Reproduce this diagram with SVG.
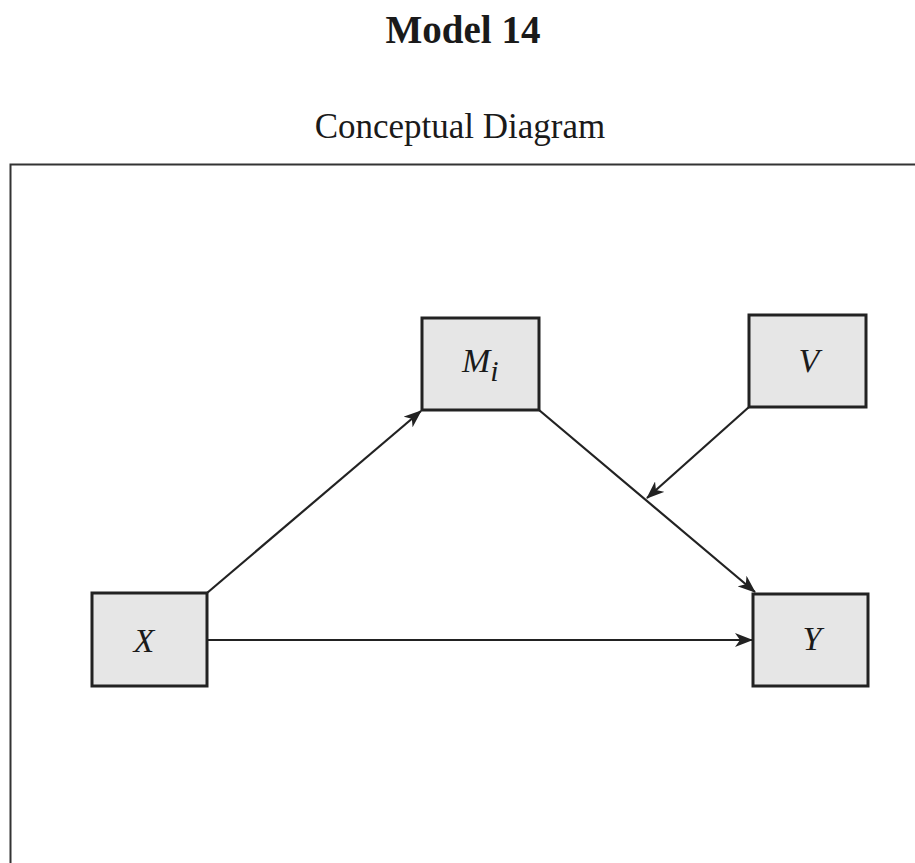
<svg xmlns="http://www.w3.org/2000/svg" width="915" height="863" viewBox="0 0 915 863">
<style>
.title{font-family:"Liberation Serif","Times New Roman",serif;font-weight:bold;font-size:39px;fill:#1a1a1a}
.sub{font-family:"Liberation Serif","Times New Roman",serif;font-size:35px;fill:#1a1a1a}
.box{fill:#e6e6e6;stroke:#222;stroke-width:3}
.lbl{font-family:"Liberation Serif","Times New Roman",serif;font-style:italic;font-size:34px;fill:#1a1a1a}
.edge{stroke:#222;stroke-width:2.2;fill:none;marker-end:url(#ah)}
</style>
<defs>
<marker id="ah" viewBox="0 0 18 14" refX="17" refY="7" markerWidth="18" markerHeight="14" markerUnits="userSpaceOnUse" orient="auto">
<path d="M0,0 L18,7 L0,14 L5,7 z" fill="#222"/>
</marker>
</defs>
<rect width="915" height="863" fill="#fff"/>
<text class="title" x="463" y="43" text-anchor="middle">Model 14</text>
<text class="sub" x="460" y="138" text-anchor="middle">Conceptual Diagram</text>
<path d="M10.5,863 V164.5 H915" fill="none" stroke="#333" stroke-width="2"/>
<g id="connectors">
<line class="edge" x1="207" y1="593" x2="421" y2="411"/>
<line class="edge" x1="539" y1="410" x2="755" y2="592"/>
<line class="edge" x1="207" y1="640" x2="752" y2="640"/>
<line class="edge" x1="749" y1="407" x2="647" y2="498"/>
</g>
<g id="node-M">
<rect class="box" x="422" y="318" width="117" height="92"/>
<text class="lbl" x="462" y="372">M<tspan font-size="30" dy="9">i</tspan></text>
</g>
<g id="node-V">
<rect class="box" x="749" y="315" width="117" height="92"/>
<text class="lbl" x="809" y="372" text-anchor="middle">V</text>
</g>
<g id="node-X">
<rect class="box" x="92" y="593" width="115" height="93"/>
<text class="lbl" x="144" y="652" text-anchor="middle">X</text>
</g>
<g id="node-Y">
<rect class="box" x="753" y="594" width="115" height="92"/>
<text class="lbl" x="812" y="650" text-anchor="middle">Y</text>
</g>
</svg>
